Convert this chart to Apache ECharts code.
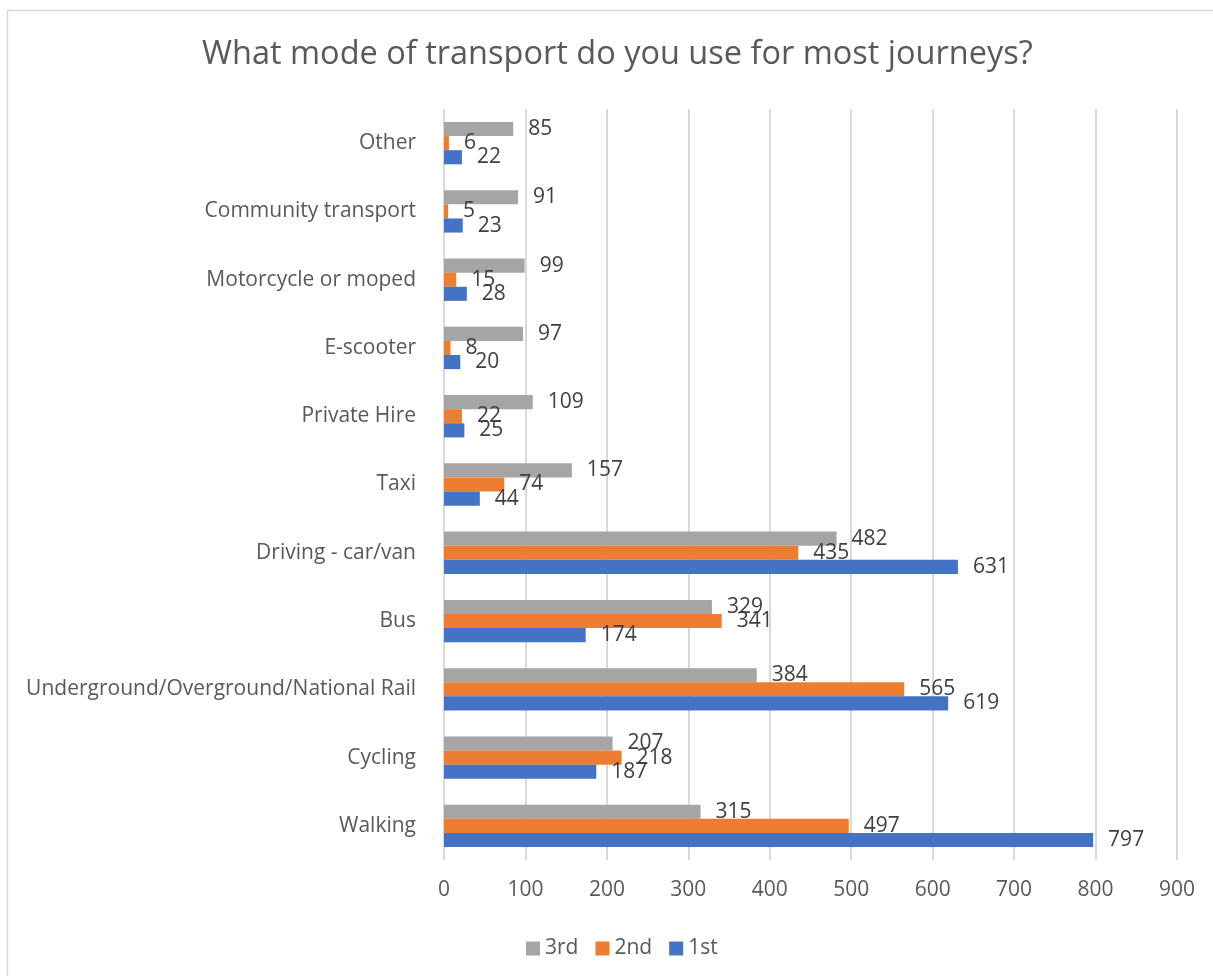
<!DOCTYPE html>
<html>
<head>
<meta charset="utf-8">
<title>Transport survey</title>
<script src="https://cdn.jsdelivr.net/npm/echarts@6/dist/echarts.min.js"></script>
<style>
  html, body { margin: 0; padding: 0; background: #ffffff; }
  #chart { width: 1213px; height: 976px; }
</style>
</head>
<body>
<div id="chart"></div>
<script>
// Survey answers, listed bottom to top as they appear on the category axis
const categories = [
  'Walking',
  'Cycling',
  'Underground/Overground/National Rail',
  'Bus',
  'Driving - car/van',
  'Taxi',
  'Private Hire',
  'E-scooter',
  'Motorcycle or moped',
  'Community transport',
  'Other'
];

// Responses per ranking
const firstChoice  = [797, 187, 619, 174, 631, 44, 25, 20, 28, 23, 22];
const secondChoice = [497, 218, 565, 341, 435, 74, 22,  8, 15,  5,  6];
const thirdChoice  = [315, 207, 384, 329, 482, 157, 109, 97, 99, 91, 85];

const xTicks = { min: 0, max: 900, interval: 100 };

const FONT = '"Open Sans", "Noto Sans", sans-serif';
const TEXT_GREY = '#595959';
const LABEL_GREY = '#404040';

function barSeries(name, values, color) {
  return {
    name: name,
    type: 'bar',
    data: values,
    barGap: '0%',
    barCategoryGap: '38%',
    itemStyle: { color: color },
    label: {
      show: true,
      position: 'right',
      distance: 15,
      fontFamily: FONT,
      fontSize: 21,
      color: LABEL_GREY
    },
    emphasis: { disabled: true }
  };
}

const chart = echarts.init(document.getElementById('chart'), null, { renderer: 'canvas' });

chart.setOption({
  animation: false,
  backgroundColor: '#ffffff',
  title: {
    text: 'What mode of transport do you use for most journeys?',
    left: 197,
    top: 33,
    textStyle: {
      fontFamily: FONT,
      fontSize: 32.5,
      fontWeight: 'normal',
      color: TEXT_GREY
    }
  },
  legend: {
    data: ['3rd', '2nd', '1st'],
    left: 526,
    top: 938,
    padding: 0,
    icon: 'rect',
    itemWidth: 14,
    itemHeight: 14,
    itemGap: 17,
    textStyle: { fontFamily: FONT, fontSize: 21, color: TEXT_GREY }
  },
  grid: { left: 444, right: 36, top: 109, bottom: 116, containLabel: false },
  xAxis: {
    type: 'value',
    min: xTicks.min,
    max: xTicks.max,
    interval: xTicks.interval,
    axisLine: { show: false },
    axisTick: { show: false },
    splitLine: { show: true, lineStyle: { color: '#d9d9d9', width: 2 } },
    axisLabel: { fontFamily: FONT, fontSize: 21, color: TEXT_GREY, margin: 20 }
  },
  yAxis: {
    type: 'category',
    data: categories,
    axisLine: { show: false },
    axisTick: { show: false },
    axisLabel: { fontFamily: FONT, fontSize: 21, color: TEXT_GREY, margin: 28 }
  },
  series: [
    barSeries('3rd', thirdChoice, '#a5a5a5'),
    barSeries('2nd', secondChoice, '#ed7d31'),
    barSeries('1st', firstChoice, '#4472c4')
  ],
  graphic: [{
    type: 'rect',
    silent: true,
    shape: { x: 7.5, y: 10.5, width: 1300, height: 1000 },
    style: { fill: 'none', stroke: '#d9d9d9', lineWidth: 1.5 }
  }]
});
</script>
</body>
</html>
